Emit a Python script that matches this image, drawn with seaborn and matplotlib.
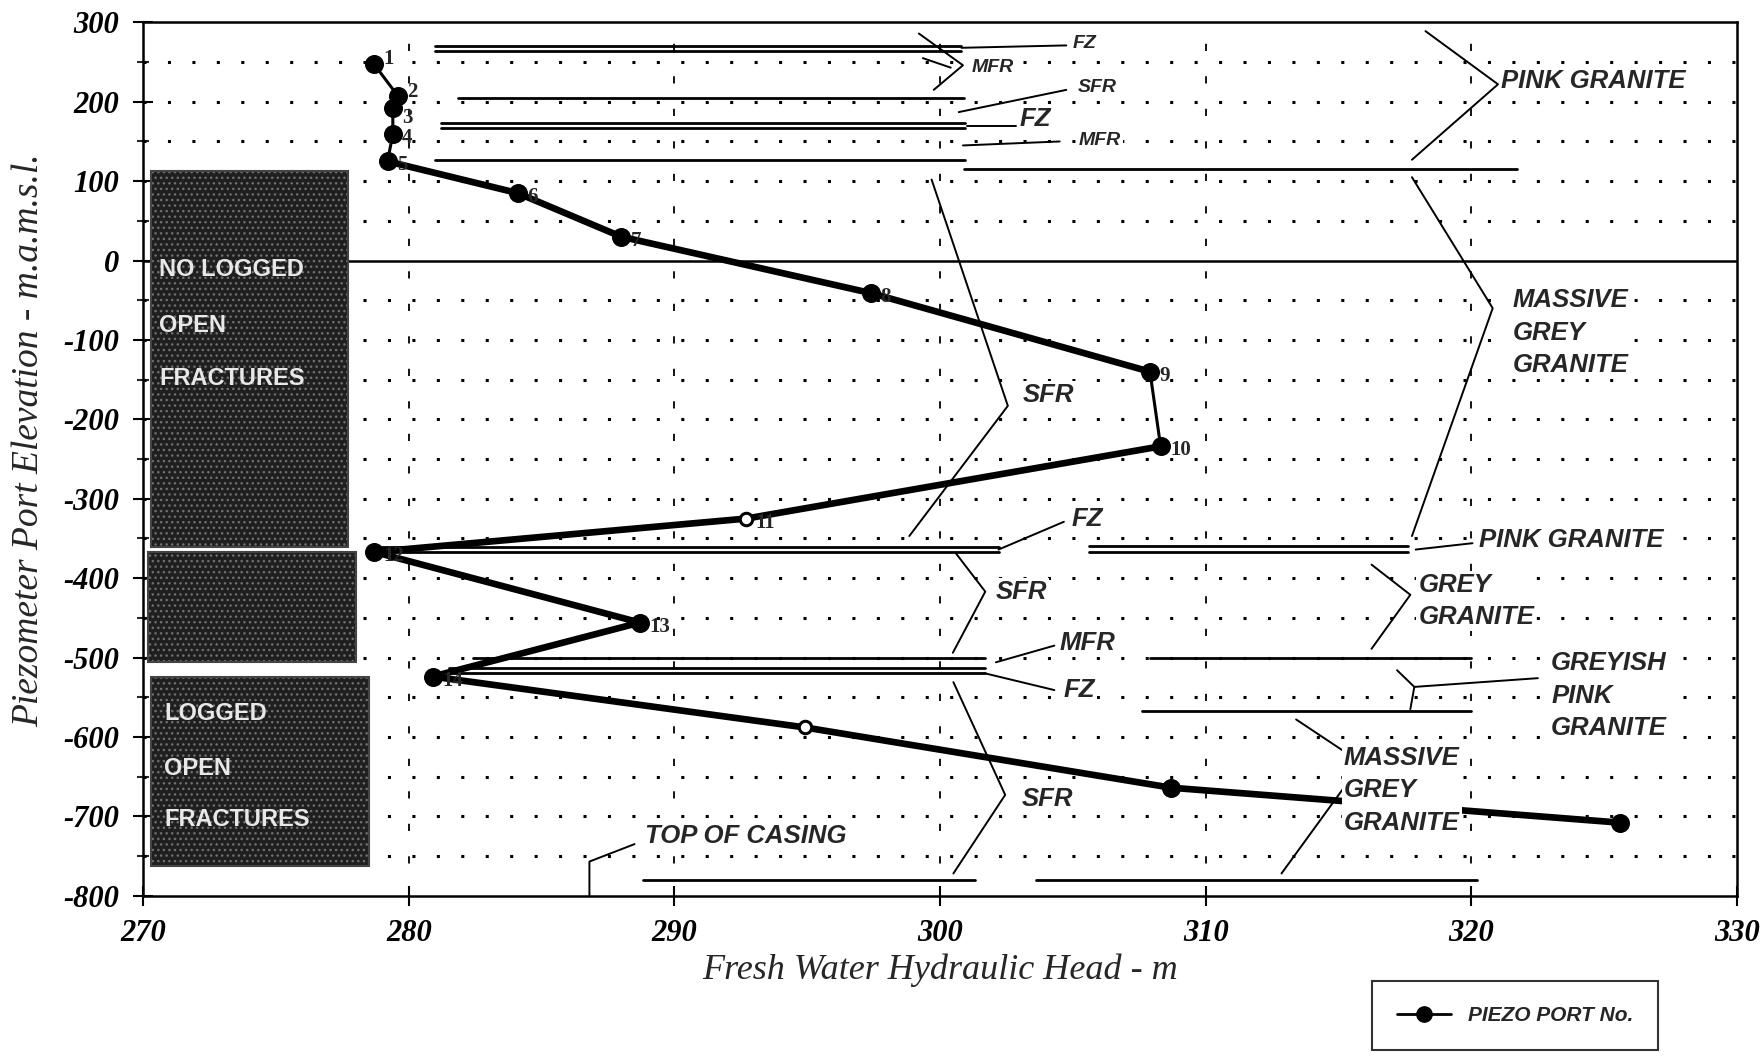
import numpy as np
import pandas as pd
import matplotlib
matplotlib.use("Agg")
import matplotlib.pyplot as plt
import seaborn as sns
from matplotlib.patches import Rectangle
from matplotlib.lines import Line2D

# ---- piezometer ports: fresh water head (m) vs port elevation (m a.m.s.l.)
port_no = [1, 2, 3, 4, 5, 6, 7, 8, 9, 10, 11, 12, 13, 14, 15, 16, 17]
head_m = [278.7, 279.6, 279.4, 279.4, 279.2, 284.1, 288.0, 297.4, 307.9,
          308.3, 292.7, 278.7, 288.7, 280.9, 294.9, 308.7, 325.6]
elev_m = [247, 207, 192, 159, 125, 85, 30, -41, -140,
          -234, -325, -367, -456, -524, -588, -664, -708]
labelled_ports = list(range(1, 15))
open_ports = [11, 15]
thin_segments = [(1, 5), (9, 10)]
thick_segments = [(5, 9), (10, 17)]
# vertical nudge (m) of the port numbers where two ports sit close together
label_nudge = {1: 12, 2: 10, 3: -8}

# ---- axis ranges and ticks
x_range = (270, 330)
y_range = (-800, 300)
x_ticks = [270, 280, 290, 300, 310, 320, 330]
y_ticks = [300, 200, 100, 0, -100, -200, -300, -400, -500, -600, -700, -800]

# ---- logged lithology / fracture contacts: (elevation, head from, head to)
contact_lines = [
    (270, 281.0, 300.8), (264, 281.0, 300.8),
    (205, 281.85, 300.9),
    (173, 281.2, 300.95), (167, 281.2, 300.95),
    (127, 281.0, 300.95),
    (115, 300.9, 321.7),
    (-361, 278.8, 302.2), (-367, 278.8, 302.2),
    (-359, 305.6, 317.6), (-367, 305.6, 317.6),
    (-501, 282.4, 301.7),
    (-513, 281.5, 301.7), (-520, 281.5, 301.7),
    (-501, 307.9, 320.0), (-567, 307.6, 320.0),
    (-780, 288.8, 301.3), (-780, 303.6, 320.2),
]

# ---- shaded fracture-logging intervals: (head from, head to, elev top, elev bottom)
log_boxes = [(270.3, 277.7, 113, -361), (270.2, 278.0, -367, -506), (270.3, 278.5, -524, -763)]
log_box_text = [
    (270.6, [(-11, "NO LOGGED"), (-82, "OPEN"), (-148, "FRACTURES")]),
    (270.8, [(-570, "LOGGED"), (-640, "OPEN"), (-704, "FRACTURES")]),
]

# ---- brackets and leaders (polylines in data units) with their labels
leaders = [
    [(299.2, 286), (300.86, 246), (299.76, 215)],
    [(299.35, 255), (300.4, 243)],
    [(300.8, 268), (304.75, 271)],
    [(300.7, 187), (304.75, 215)],
    [(301.0, 170), (302.85, 170)],
    [(300.86, 145), (304.5, 150)],
    [(318.27, 289), (321.0, 222), (317.76, 127)],
    [(317.76, 105), (320.8, -60), (317.76, -347)],
    [(299.68, 102), (302.55, -183), (298.84, -347)],
    [(302.2, -364), (304.66, -329)],
    [(317.9, -364), (320.04, -356)],
    [(300.6, -369), (301.7, -417), (300.48, -494)],
    [(316.24, -383), (317.7, -421), (316.24, -489)],
    [(302.1, -506), (304.3, -485)],
    [(301.7, -520), (304.3, -541)],
    [(317.2, -516), (317.85, -537), (317.7, -565)],
    [(317.85, -537), (322.5, -526)],
    [(300.5, -531), (302.45, -673), (300.5, -772)],
    [(313.4, -578), (315.87, -633), (312.85, -772)],
    [(286.8, -800), (286.8, -757), (288.5, -735)],
]
labels_small = [(305.0, 273, "FZ"), (301.2, 243, "MFR"), (305.2, 218, "SFR"), (305.2, 151, "MFR")]
labels_large = [
    (303.0, 178, "FZ"),
    (321.1, 226, "PINK GRANITE"),
    (321.55, -91, "MASSIVE\nGREY\nGRANITE"),
    (303.1, -169, "SFR"),
    (304.96, -325, "FZ"),
    (320.3, -352, "PINK GRANITE"),
    (302.08, -417, "SFR"),
    (318.0, -429, "GREY\nGRANITE"),
    (304.5, -482, "MFR"),
    (304.66, -541, "FZ"),
    (323.0, -548, "GREYISH\nPINK\nGRANITE"),
    (303.06, -678, "SFR"),
    (315.2, -667, "MASSIVE\nGREY\nGRANITE"),
    (288.9, -725, "TOP OF CASING"),
]

sns.set_theme(style="white")
plt.rcParams["font.family"] = ["Liberation Serif", "DejaVu Serif"]
plt.rcParams["axes.unicode_minus"] = False
plt.rcParams["hatch.color"] = "#707070"
plt.rcParams["hatch.linewidth"] = 1.0
ANNOT = ["Liberation Sans Narrow", "Liberation Sans", "DejaVu Sans"]
WHITE_BOX = dict(facecolor="white", edgecolor="none", pad=1.5)

df = pd.DataFrame({"port": port_no, "head": head_m, "elev": elev_m})

fig = plt.figure(figsize=(17.6, 10.56), dpi=100)
ax = fig.add_axes([0.0813, 0.1518, 0.9057, 0.827])

# grid: dotted horizontals every 50 m, sparse dashed verticals every 10 m
for yv in np.arange(-750, 300, 50):
    if yv == 0:
        continue
    ax.axhline(yv, color="black", lw=2.2, ls=(0, (1, 7)), zorder=1)
for xv in x_ticks[1:-1]:
    ax.axvline(xv, color="black", lw=1.3, ls=(0, (4, 14)), zorder=1)
ax.axhline(0, color="black", lw=1.8, zorder=2)

# fracture-logging boxes
for x0, x1, top, bot in log_boxes:
    ax.add_patch(Rectangle((x0, bot), x1 - x0, top - bot, facecolor="#1f1f1f",
                           edgecolor="#707070", hatch="...", lw=0, zorder=2))
    ax.add_patch(Rectangle((x0, bot), x1 - x0, top - bot, facecolor="none",
                           edgecolor="#444444", lw=1.5, zorder=2))
for xl, rows in log_box_text:
    for yv, s in rows:
        ax.text(xl, yv, s, color="#e8e8e8", family=ANNOT, fontsize=17,
                fontweight="bold", va="center", ha="left", zorder=3)

# contacts
for yv, x0, x1 in contact_lines:
    ax.plot([x0, x1], [yv, yv], color="black", lw=2.0, zorder=3)

# leaders / brackets
for pts in leaders:
    xs, ys = zip(*pts)
    ax.plot(xs, ys, color="black", lw=1.4, zorder=3)

for x, y, s in labels_small:
    ax.text(x, y, s, family=ANNOT, fontsize=14, style="italic", fontweight="bold",
            va="center", ha="left", zorder=4, bbox=WHITE_BOX)

# head profile
for a, b in thin_segments:
    seg = df[(df.port >= a) & (df.port <= b)]
    sns.lineplot(data=seg, x="head", y="elev", sort=False, estimator=None,
                 color="black", lw=2.2, ax=ax, zorder=5)
for a, b in thick_segments:
    seg = df[(df.port >= a) & (df.port <= b)]
    sns.lineplot(data=seg, x="head", y="elev", sort=False, estimator=None,
                 color="black", lw=4.8, ax=ax, zorder=5)
filled = df[~df.port.isin(open_ports)]
hollow = df[df.port.isin(open_ports)]
sns.scatterplot(data=filled, x="head", y="elev", color="black", s=160,
                edgecolor="black", ax=ax, zorder=6)
sns.scatterplot(data=hollow, x="head", y="elev", color="white", s=80,
                edgecolor="black", linewidth=2.2, ax=ax, zorder=6)
for _, r in df[df.port.isin(labelled_ports)].iterrows():
    p = int(r["port"])
    ax.text(r["head"] + 0.35, r["elev"] - 5 + label_nudge.get(p, 0), str(p),
            fontsize=15, fontweight="bold", va="center", ha="left", zorder=7)

# large labels sit above the profile line on a white ground
for x, y, s in labels_large:
    ax.text(x, y, s, family=ANNOT, fontsize=18.5, style="italic", fontweight="bold",
            va="center", ha="left", linespacing=1.45, zorder=8, bbox=WHITE_BOX)

# axes
ax.set_xlim(*x_range)
ax.set_ylim(*y_range)
ax.set_xticks(x_ticks)
ax.set_yticks(y_ticks)
ax.set_yticks(np.arange(-750, 300, 100), minor=True)
ax.tick_params(axis="both", which="major", direction="inout", length=14, width=1.5,
               labelsize=22, pad=10, colors="black")
ax.tick_params(axis="y", which="minor", direction="inout", length=8, width=1.5, left=True)
ax.tick_params(axis="x", which="major", bottom=True)
ax.tick_params(axis="y", which="major", left=True)
for lab in ax.get_xticklabels() + ax.get_yticklabels():
    lab.set_fontstyle("italic")
    lab.set_fontweight("bold")
for sp in ax.spines.values():
    sp.set_color("black")
    sp.set_linewidth(1.8)
ax.set_xlabel("Fresh Water Hydraulic Head - m", fontsize=26, style="italic", labelpad=4)
ax.set_ylabel("Piezometer Port Elevation - m.a.m.s.l.", fontsize=27, style="italic")
ax.yaxis.set_label_coords(-0.061, 0.522)

handle = Line2D([], [], color="black", lw=2, marker="o", markersize=11)
leg = fig.legend([handle], ["PIEZO PORT No."], loc="center",
                 bbox_to_anchor=(0.861, 0.038), frameon=True, fancybox=False,
                 edgecolor="black", handlelength=2.6, borderpad=1.2,
                 prop={"family": ANNOT, "size": 15, "style": "italic", "weight": "bold"})
leg.get_frame().set_linewidth(1.5)

fig.savefig("out.png", dpi=100, facecolor="white")
